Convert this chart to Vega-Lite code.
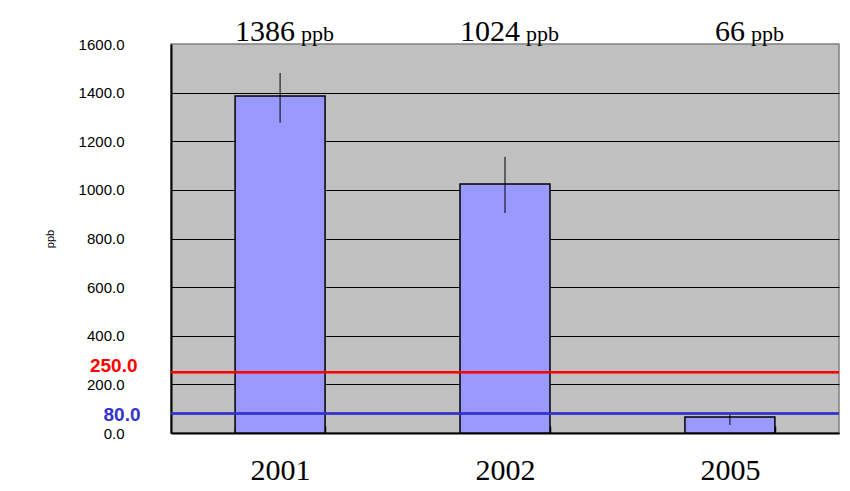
{
  "$schema": "https://vega.github.io/schema/vega-lite/v6.json",
  "width": 668,
  "height": 389,
  "autosize": {"type": "none"},
  "padding": {"left": 171, "top": 44, "right": 11, "bottom": 58},
  "background": "white",
  "config": {"view": {"fill": "#C0C0C0", "stroke": "#808080", "strokeWidth": 1.5}},
  "data": {"values": [
    {"year": "2001", "value": 1386, "lo": 1276, "hi": 1481},
    {"year": "2002", "value": 1024, "lo": 905, "hi": 1136},
    {"year": "2005", "value": 66, "lo": 33, "hi": 82}
  ]},
  "layer": [
    {
      "mark": {"type": "bar", "fill": "#9999FF", "stroke": "#000000", "strokeWidth": 1.5},
      "encoding": {
        "x": {
          "field": "year", "type": "nominal",
          "scale": {"paddingInner": 0.6, "paddingOuter": 0.285},
          "axis": {
            "title": null, "labelAngle": 0, "labelFont": "Liberation Serif", "labelFontSize": 30,
            "labelColor": "#000000", "labelPadding": 29, "labelBaseline": "top",
            "domainColor": "#000000", "domainWidth": 2,
            "ticks": true, "tickBand": "extent", "tickSize": -7, "tickColor": "#000000", "tickWidth": 1.5
          }
        },
        "y": {
          "field": "value", "type": "quantitative",
          "scale": {"domain": [0, 1600], "nice": false},
          "axis": {
            "title": "ppb", "titleFont": "Liberation Sans", "titleFontSize": 11, "titleFontWeight": "normal",
            "titleColor": "#000000", "titlePadding": 23,
            "values": [0, 80, 200, 250, 400, 600, 800, 1000, 1200, 1400, 1600],
            "tickCount": 30,
            "format": ".1f", "labelFont": "Liberation Sans", "labelOverlap": false,
            "labelFontSize": {"condition": {"test": "datum.value == 250 || datum.value == 80", "value": 19}, "value": 15},
            "labelFontWeight": {"condition": {"test": "datum.value == 250 || datum.value == 80", "value": "bold"}, "value": "normal"},
            "labelColor": {"condition": [{"test": "datum.value == 250", "value": "#FF0000"}, {"test": "datum.value == 80", "value": "#3333CC"}], "value": "#000000"},
            "labelPadding": {"condition": [{"test": "datum.value == 250", "value": 34}, {"test": "datum.value == 80", "value": 31}], "value": 47},
            "labelOffset": {"condition": [{"test": "datum.value == 250", "value": -7}, {"test": "datum.value == 80", "value": 1}], "value": 0},
            "ticks": false,
            "domainColor": "#000000", "domainWidth": 2,
            "grid": true, "gridColor": "#000000", "gridWidth": 1.2,
            "gridOpacity": {"condition": {"test": "datum.value == 250 || datum.value == 80 || datum.value == 1600", "value": 0}, "value": 1}
          }
        }
      }
    },
    {
      "mark": {"type": "rule", "color": "#000000", "strokeWidth": 1},
      "encoding": {
        "x": {"field": "year", "type": "nominal"},
        "y": {"field": "lo", "type": "quantitative"},
        "y2": {"field": "hi"}
      }
    },
    {
      "mark": {"type": "rule", "color": "#FF0000", "strokeWidth": 2},
      "encoding": {"y": {"datum": 250, "type": "quantitative"}}
    },
    {
      "mark": {"type": "rule", "color": "#3333CC", "strokeWidth": 2},
      "encoding": {"y": {"datum": 80, "type": "quantitative"}}
    },
    {
      "mark": {"type": "text", "align": "right", "baseline": "alphabetic", "dx": 15, "dy": -3, "font": "Liberation Serif", "fontSize": 30, "color": "#000000"},
      "encoding": {
        "x": {"field": "year", "type": "nominal"},
        "y": {"datum": 1600, "type": "quantitative"},
        "text": {"field": "value", "type": "quantitative", "format": "d"}
      }
    },
    {
      "mark": {"type": "text", "align": "left", "baseline": "alphabetic", "dx": 21, "dy": -3, "font": "Liberation Serif", "fontSize": 22, "color": "#000000"},
      "encoding": {
        "x": {"field": "year", "type": "nominal"},
        "y": {"datum": 1600, "type": "quantitative"},
        "text": {"value": "ppb"}
      }
    }
  ]
}
